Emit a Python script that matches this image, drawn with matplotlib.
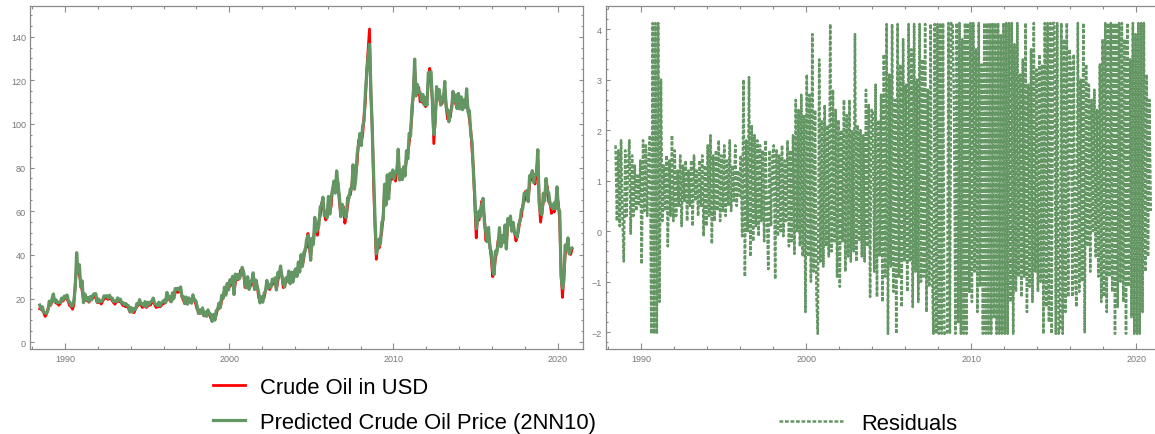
import numpy as np
import pandas as pd
import matplotlib
matplotlib.use("Agg")
from matplotlib import pyplot as plt
from matplotlib.ticker import MultipleLocator

# monthly crude oil price in USD, Jun 1988 .. Nov 2020
price = [
    15.3, 15.0, 14.6, 13.4, 11.8, 12.9, 15.0,
    17.2, 16.9, 18.7, 20.3, 18.6, 17.9, 17.8, 16.9, 17.7, 19.1, 18.8, 19.7,
    21.2, 19.8, 18.4, 16.6, 16.3, 15.1, 17.2, 27.2, 33.5, 34.0, 31.0, 27.3,
    23.6, 19.5, 19.1, 19.2, 19.2, 18.3, 19.4, 19.7, 20.3, 21.9, 20.3, 18.2,
    18.2, 18.2, 17.5, 18.8, 19.7, 20.9, 20.0, 19.6, 20.1, 20.1, 19.0, 18.1,
    17.4, 18.5, 18.8, 18.7, 18.5, 17.6, 16.7, 16.6, 16.2, 16.8, 15.3, 13.8,
    14.1, 13.7, 13.6, 15.2, 16.2, 16.9, 17.9, 17.1, 15.9, 16.4, 17.1, 15.9,
    16.6, 17.1, 17.0, 18.4, 18.4, 17.3, 15.9, 16.1, 16.6, 16.2, 16.9, 17.9,
    17.8, 18.2, 19.8, 20.9, 19.2, 18.5, 19.6, 20.5, 22.5, 24.3, 22.8, 23.7,
    23.5, 20.8, 19.2, 17.6, 19.1, 17.6, 18.5, 18.6, 18.6, 20.1, 19.2, 17.6,
    15.1, 14.1, 13.2, 13.4, 14.2, 12.1, 12.1, 12.0, 13.4, 12.8, 11.0, 9.8,
    11.1, 10.3, 12.5, 15.3, 15.3, 15.9, 19.1, 20.3, 22.5, 22.0, 24.6, 25.5,
    25.5, 27.8, 27.5, 22.8, 27.3, 29.8, 28.7, 30.4, 33.1, 30.9, 32.5, 25.1,
    25.6, 27.5, 24.5, 25.7, 28.4, 27.7, 24.5, 25.7, 25.7, 20.5, 18.9, 18.6,
    19.4, 20.3, 23.7, 25.7, 25.4, 24.1, 25.7, 26.3, 28.4, 27.5, 24.3, 28.0,
    31.2, 32.8, 30.4, 25.0, 25.8, 27.6, 28.4, 29.8, 27.1, 29.6, 28.8, 29.8,
    31.2, 30.9, 33.8, 33.4, 37.9, 35.2, 38.4, 43.0, 43.4, 49.8, 43.1, 39.6,
    44.5, 45.5, 53.1, 51.9, 49.0, 55.6, 57.9, 63.8, 63.1, 59.5, 56.0, 57.6,
    63.9, 59.9, 62.3, 70.4, 70.2, 69.8, 74.4, 73.0, 63.8, 58.9, 59.1, 62.0,
    54.5, 58.0, 62.1, 67.5, 67.5, 71.3, 77.2, 70.8, 77.1, 82.3, 92.5, 91.5,
    92.2, 94.9, 103.3, 110.4, 124.6, 134.0, 143.5, 113.0, 99.0, 72.8, 53.2, 38.0,
    44.9, 43.1, 46.8, 50.8, 57.9, 68.6, 64.9, 72.5, 67.7, 73.2, 77.0, 74.7,
    76.2, 73.8, 78.8, 84.8, 75.9, 74.8, 75.6, 77.1, 78.2, 83.5, 86.1, 91.5,
    96.5, 103.7, 114.6, 125.5, 114.5, 113.9, 116.7, 110.2, 112.8, 109.6, 110.8, 107.9,
    110.7, 119.3, 125.5, 119.8, 110.3, 91.0, 102.6, 113.4, 113.0, 111.5, 109.5, 109.2,
    112.3, 116.1, 108.5, 102.3, 102.6, 102.9, 107.9, 111.3, 111.6, 109.1, 107.8, 110.8,
    108.1, 108.9, 107.5, 107.8, 109.7, 111.9, 106.9, 101.9, 97.3, 87.3, 79.0, 62.3,
    47.8, 58.1, 55.9, 59.5, 64.6, 61.7, 56.8, 46.5, 47.6, 48.4, 44.3, 38.0,
    30.0, 32.2, 38.2, 41.6, 46.7, 48.3, 44.9, 45.8, 46.6, 49.5, 44.7, 53.3,
    54.6, 54.9, 51.6, 52.3, 50.3, 46.4, 48.5, 51.7, 56.2, 57.5, 62.7, 64.4,
    69.1, 65.3, 66.0, 72.1, 76.9, 74.4, 74.3, 72.5, 78.9, 84.0, 64.8, 55.0,
    59.4, 64.0, 66.1, 71.2, 71.3, 64.2, 63.9, 59.0, 62.8, 59.7, 63.2, 67.3,
    63.7, 55.7, 32.0, 20.5, 29.4, 40.3, 43.2, 44.7, 40.9, 40.2, 42.7,
]

# residuals of the 2NN10 prediction (prediction - actual), same months
resid = [
    1.7, 0.2, 1.6, 0.1, 1.8, 0.3, -0.6,
    1.6, 0.3, 1.2, 1.8, -0.05, 1.5, 0.3, 1.3, 0.4, 1.1, 0.5, 1.4,
    -0.65, 1.8, 0.4, 1.7, 0.3, 1.5, 1.9, -2.1, 7.5, -2.1, 4.5, -2.1,
    4.5, -1.4, 3.0, 0.2, 1.3, 0.4, 1.5, -0.3, 1.4, 0.3, 1.9, 0.2,
    1.6, 0.3, 1.2, 0.5, 1.5, 0.1, 1.3, 0.6, 1.4, 0.2, 1.2, 0.5,
    1.4, 0.1, 1.5, 0.6, 1.2, 0.3, 1.4, 0.5, 1.5, -0.1, 1.3, 0.1,
    1.7, 0.3, 1.9, -0.25, 1.5, 0.2, 1.6, 0.4, 1.8, 0.2, 1.5, 0.4,
    1.7, 0.3, 1.4, 0.5, 1.8, 0.4, 1.3, 0.6, 1.7, 0.5, 1.2, 0.7,
    1.5, -0.1, 3.0, -0.9, 1.8, 0.0, 3.05, -0.5, 2.1, -0.2, 1.9, 0.1,
    1.8, -0.1, 1.7, 0.2, 1.6, -0.2, 1.8, 0.3, -0.75, 1.6, 0.1, 1.5,
    1.7, -0.95, 1.6, -0.1, 1.5, 0.0, 1.7, -0.1, 1.4, 0.2, 1.8, -0.3,
    1.6, -0.2, 1.9, -0.45, 2.6, 0.0, 2.4, -0.3, 2.7, -0.5, 2.3, -1.6,
    3.1, -0.5, 2.7, -1.0, 3.9, -0.8, 2.4, -1.3, -2.05, 3.4, -0.6, 2.2,
    -0.7, 2.5, -0.3, 2.1, -0.5, 4.1, -0.4, 2.8, -0.2, 2.4, -0.9, 2.2,
    -1.1, 2.0, -0.2, 2.6, -0.8, 2.3, -0.5, 2.6, -0.6, 2.0, -0.4, 3.9,
    -0.6, 2.1, -0.2, 2.0, -0.5, 1.9, -0.6, 2.8, -0.3, 2.5, -1.3, 2.4,
    2.4, -0.8, 2.9, -1.3, 2.2, -0.5, 2.7, -1.4, 3.5, -0.9, 4.1, -2.1,
    3.1, -0.7, 4.1, -1.2, 2.6, -2.1, 4.1, -0.9, 3.3, -1.5, 3.8, -0.6,
    2.9, -1.2, 4.1, -0.6, 3.6, -1.5, 4.1, -0.8, 3.0, -1.4, 4.1, -1.0,
    3.4, -0.9, 4.1, -1.6, 2.8, -1.1, 4.1, -0.7, -2.1, 4.1, -2.1, 4.1,
    -2.1, 4.2, -2.1, 4.2, -2.1, -3.0, -7.0, 4.2, -2.1, 4.2, 4.2, 2.5,
    -2.1, 4.2, -1.8, 4.2, -2.1, 3.8, -2.1, 4.2, -2.1, 4.2, -1.2, 4.2,
    -1.4, 4.2, -0.8, 3.6, -1.6, 4.2, -1.1, 3.3, -2.1, 4.2, -2.1, 4.2,
    -2.1, 4.2, -2.1, 4.2, -1.7, 4.2, -2.1, 4.2, -2.1, 3.9, -2.1, 4.2,
    -2.1, 4.2, -2.1, 4.2, -1.4, 4.2, -2.1, 3.7, -1.2, 4.2, -0.9, 3.1,
    -1.3, 3.4, -0.9, 4.2, -1.6, 2.9, -1.1, 3.6, -1.4, 4.2, -0.8, 3.2,
    -1.2, 3.5, -1.0, 3.3, -2.1, 4.2, -1.5, 4.2, -1.8, 4.2, -2.1, 4.2,
    4.2, -2.1, 4.2, -2.1, -1.9, 4.2, -2.1, 3.8, -1.6, 4.2, -1.3, 3.6,
    3.2, -1.3, 3.5, -0.9, -1.5, 4.2, -1.2, 3.0, -1.0, 4.2, -2.0, 3.3,
    -0.3, 2.9, -0.8, 2.6, 0.0, 2.8, -0.5, 2.4, -0.9, 3.3, -1.4, 3.8,
    -1.3, 4.2, -1.6, 4.2, -0.9, 4.2, -1.2, 4.2, -2.1, 4.2, -1.5, 4.2,
    -1.0, 4.2, -1.4, 3.8, -2.1, 4.2, -1.1, 3.4, -1.7, 4.2, -2.1, 3.9,
    -2.1, 4.2, -2.1, 4.2, -1.6, 4.2, -0.8, 3.1, -0.5, 2.6, 0.4,
]

months = pd.date_range("1988-06-01", "2020-11-01", freq="MS")
t = months.year + (months.month - 0.5) / 12.0

price = np.array(price)
resid = np.array(resid)
predicted = price + resid

RED = "#ff0000"
GREEN = "#649664"
GRAY = "#8a8a8a"
plt.rcParams["font.family"] = ["Liberation Sans", "DejaVu Sans"]

fig = plt.figure(figsize=(11.55, 4.35), dpi=100)
ax1 = fig.add_axes([0.0260, 0.1943, 0.4790, 0.7889])
ax2 = fig.add_axes([0.5244, 0.1943, 0.4823, 0.7889])

l_red, = ax1.plot(t, price, color=RED, lw=2.0)
l_green, = ax1.plot(t, predicted, color=GREEN, lw=2.3)

l_res, = ax2.plot(t, np.clip(resid, -2.03, 4.12), color=GREEN, lw=1.8,
                  linestyle=(0, (1.5, 0.7)))

ax1.set_xlim(1987.87, 2021.56)
ax1.set_ylim(-3.35, 153.9)
ax2.set_xlim(1987.86, 2021.6)
ax2.set_ylim(-2.34, 4.45)

for ax, ymaj, ymin in [(ax1, 20, 5), (ax2, 1, 0.2)]:
    ax.xaxis.set_major_locator(MultipleLocator(10))
    ax.xaxis.set_minor_locator(MultipleLocator(2))
    ax.yaxis.set_major_locator(MultipleLocator(ymaj))
    ax.yaxis.set_minor_locator(MultipleLocator(ymin))
    ax.tick_params(which="both", direction="in", top=True, right=True,
                   color=GRAY, labelcolor="#777777", labelsize=6.5, width=0.8)
    ax.tick_params(axis="x", which="major", length=4.5, pad=3)
    ax.tick_params(axis="x", which="minor", length=2.5)
    ax.tick_params(axis="y", which="major", length=3, pad=3)
    ax.tick_params(axis="y", which="minor", length=1.6)
    for s in ax.spines.values():
        s.set_color(GRAY)
        s.set_linewidth(0.9)

ax2.yaxis.set_major_formatter(plt.FuncFormatter(lambda v, p: f"{v:.0f}".replace("-", "\u2212")))

legend_font = {"family": ["Liberation Sans", "DejaVu Sans"], "size": 15.8}
fig.legend(handles=[l_red, l_green],
           labels=["Crude Oil in USD", "Predicted Crude Oil Price (2NN10)"],
           loc="upper left", bbox_to_anchor=(0.1844, 0.132), frameon=False,
           prop=legend_font, handlelength=1.46,
           handletextpad=0.68, labelspacing=0.64, borderaxespad=0, borderpad=0)
fig.legend(handles=[l_res], labels=["Residuals"],
           loc="upper left", bbox_to_anchor=(0.6745, 0.049), frameon=False,
           prop=legend_font, handlelength=2.92,
           handletextpad=0.82, borderaxespad=0, borderpad=0)

fig.savefig("out.png", dpi=100)
